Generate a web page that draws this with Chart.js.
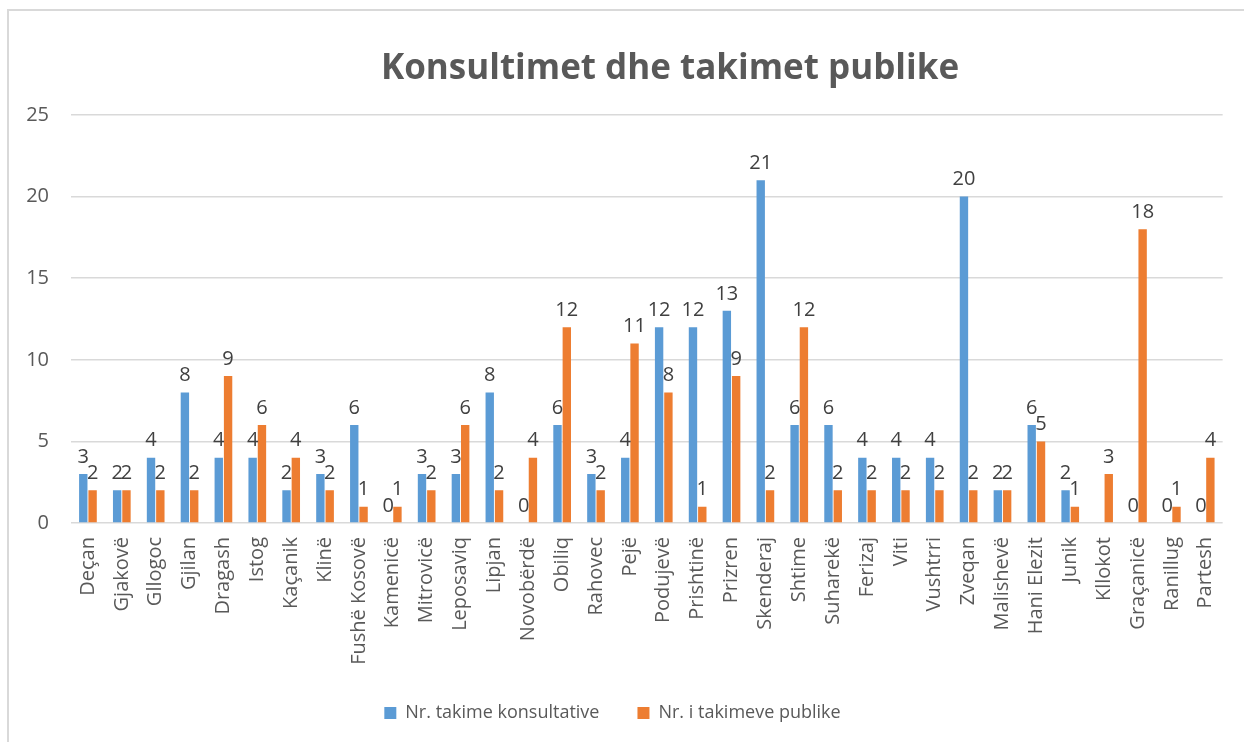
<!DOCTYPE html>
<html>
<head>
<meta charset="utf-8">
<script src="https://cdn.jsdelivr.net/npm/chart.js@4.4.1/dist/chart.umd.min.js"></script>
<style>
  html, body { margin: 0; padding: 0; background: #fff; }
  #wrap { width: 1244px; height: 742px; position: relative; }
</style>
</head>
<body>
<div id="wrap"><canvas id="chart" width="1244" height="742"></canvas></div>
<script>
const categories = ['Deçan', 'Gjakovë', 'Gllogoc', 'Gjilan', 'Dragash', 'Istog', 'Kaçanik', 'Klinë',
  'Fushë Kosovë', 'Kamenicë', 'Mitrovicë', 'Leposaviq', 'Lipjan', 'Novobërdë', 'Obiliq', 'Rahovec',
  'Pejë', 'Podujevë', 'Prishtinë', 'Prizren', 'Skenderaj', 'Shtime', 'Suharekë', 'Ferizaj', 'Viti',
  'Vushtrri', 'Zveqan', 'Malishevë', 'Hani Elezit', 'Junik', 'Kllokot', 'Graçanicë', 'Ranillug', 'Partesh'];

const konsultative = [3, 2, 4, 8, 4, 4, 2, 3, 6, 0, 3, 3, 8, 0, 6, 3, 4, 12, 12, 13, 21, 6, 6, 4, 4,
  4, 20, 2, 6, 2, null, 0, 0, 0];
const publike = [2, 2, 2, 2, 9, 6, 4, 2, 1, 1, 2, 6, 2, 4, 12, 2, 11, 8, 1, 9, 2, 12, 2, 2, 2,
  2, 2, 2, 5, 1, 3, 18, 1, 4];

const yTicks = [0, 5, 10, 15, 20, 25];

const TITLE = 'Konsultimet dhe takimet publike';
const FONT = "'Open Sans', sans-serif";

Chart.defaults.font.family = FONT;
Chart.defaults.font.size = 20;
Chart.defaults.color = '#595959';

// outer frame + title (title sits a bit right of centre, as in the original)
const framePlugin = {
  id: 'frame',
  beforeDraw(chart) {
    const ctx = chart.ctx;
    ctx.save();
    ctx.fillStyle = '#fff';
    ctx.fillRect(0, 0, chart.width, chart.height);
    ctx.strokeStyle = '#d9d9d9';
    ctx.lineWidth = 2;
    ctx.strokeRect(8, 10, 1400, 900);
    ctx.fillStyle = '#595959';
    ctx.font = 'bold 35px ' + FONT;
    ctx.textAlign = 'center';
    ctx.textBaseline = 'middle';
    ctx.fillText(TITLE, 670, 69);
    ctx.restore();
  }
};

// value labels above bars
const valueLabels = {
  id: 'valueLabels',
  afterDatasetsDraw(chart) {
    const ctx = chart.ctx;
    ctx.save();
    ctx.font = '20px ' + FONT;
    ctx.fillStyle = '#404040';
    ctx.textAlign = 'center';
    chart.data.datasets.forEach((ds, i) => {
      const meta = chart.getDatasetMeta(i);
      meta.data.forEach((bar, j) => {
        const v = ds.data[j];
        if (v === null || v === undefined) return;
        ctx.fillText(String(v), bar.x, bar.y - 17);
      });
    });
    ctx.restore();
  }
};

new Chart(document.getElementById('chart').getContext('2d'), {
  type: 'bar',
  data: {
    labels: categories,
    datasets: [
      {
        label: 'Nr. takime konsultative',
        data: konsultative,
        backgroundColor: '#5B9BD5',
        categoryPercentage: 0.55,
        barPercentage: 0.9
      },
      {
        label: 'Nr. i takimeve publike',
        data: publike,
        backgroundColor: '#ED7D31',
        categoryPercentage: 0.55,
        barPercentage: 0.9
      }
    ]
  },
  options: {
    responsive: false,
    animation: false,
    layout: { padding: { left: 0, right: 19, top: 115, bottom: 10 } },
    plugins: {
      title: { display: false },
      legend: {
        position: 'bottom',
        labels: {
          color: '#595959',
          font: { family: FONT, size: 18 },
          boxWidth: 12,
          boxHeight: 12,
          padding: 38
        }
      },
      tooltip: { enabled: false }
    },
    scales: {
      x: {
        grid: { display: false, drawTicks: false },
        border: { display: false },
        ticks: {
          color: '#595959',
          font: { family: FONT, size: 20 },
          minRotation: 90,
          maxRotation: 90,
          autoSkip: false,
          padding: 14
        },
        afterFit(scale) { scale.height = 143; }
      },
      y: {
        min: 0,
        max: 25,
        afterBuildTicks(scale) { scale.ticks = yTicks.map(v => ({ value: v })); },
        grid: { color: '#d9d9d9', lineWidth: 1.5, drawTicks: false },
        border: { display: false },
        ticks: {
          color: '#595959',
          font: { family: FONT, size: 20 },
          padding: 22
        },
        afterFit(scale) { scale.width = 71; }
      }
    }
  },
  plugins: [framePlugin, valueLabels]
});
</script>
</body>
</html>
